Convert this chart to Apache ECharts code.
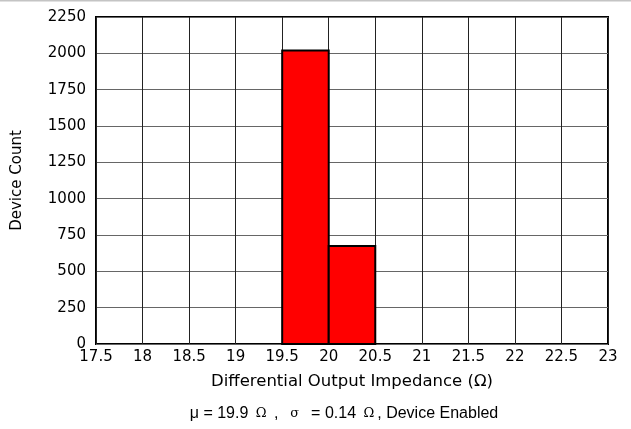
<!DOCTYPE html>
<html>
<head>
<meta charset="utf-8">
<script src="https://cdn.jsdelivr.net/npm/echarts@6/dist/echarts.min.js"></script>
<style>
  html, body { margin: 0; padding: 0; background: #fff; }
  #chart { width: 631px; height: 429px; }
</style>
</head>
<body>
<div id="chart"></div>
<script>
// histogram bins: [start, end, count]
const binStarts = [19.5, 20.0];
const binEnds = [20.0, 20.5];
const binCounts = [2020, 675];

const xMin = 17.5, xMax = 23, xStep = 0.5;
const yMin = 0, yMax = 2250, yStep = 250;

const font = 'DejaVu Sans, sans-serif';
const font2 = 'Liberation Sans, Arial, sans-serif';

const bins = binStarts.map((s, i) => [s, binEnds[i], binCounts[i]]);

const myChart = echarts.init(document.getElementById('chart'));

const options = {
  animation: false,
  backgroundColor: '#fff',
  grid: {
    left: 96, right: 23, top: 17, bottom: 85,
    show: true, borderColor: '#000', borderWidth: 2
  },
  title: {
    text: 'μ = 19.9 {s|Ω} ,  {s|σ}  = 0.14 {s|Ω}, Device Enabled',
    left: 339,
    top: 401,
    textAlign: 'center',
    textStyle: {
      fontFamily: font2, fontSize: 16, fontWeight: 'normal', color: '#000',
      rich: {
        s: { fontFamily: 'DejaVu Serif, serif', fontSize: 13, color: '#000', padding: [0, 3, 0, 3] }
      }
    }
  },
  xAxis: {
    type: 'value',
    min: xMin, max: xMax, interval: xStep,
    name: 'Differential Output Impedance (Ω)',
    nameLocation: 'middle',
    nameGap: 29,
    nameTextStyle: { fontFamily: font, fontSize: 16.5, color: '#000' },
    axisLine: { show: false },
    axisTick: { show: false },
    axisLabel: { fontFamily: font, fontSize: 15, color: '#000', margin: 6, formatter: v => String(v) },
    splitLine: { show: true, lineStyle: { color: '#222', width: 1 } }
  },
  yAxis: {
    type: 'value',
    min: yMin, max: yMax, interval: yStep,
    name: 'Device Count',
    nameLocation: 'middle',
    nameGap: 71,
    nameRotate: 90,
    nameTextStyle: { fontFamily: font, fontSize: 15, color: '#000' },
    axisLine: { show: false },
    axisTick: { show: false },
    axisLabel: { fontFamily: font, fontSize: 15, color: '#000', margin: 10, formatter: v => String(v) },
    splitLine: { show: true, lineStyle: { color: '#666', width: 1 } }
  },
  graphic: [{
    type: 'line', shape: { x1: 0, y1: 0.5, x2: 631, y2: 0.5 },
    style: { stroke: '#c4c4c4', lineWidth: 2 }
  }],
  series: [{
    type: 'custom',
    data: bins,
    encode: { x: [0, 1], y: 2 },
    renderItem: function (params, api) {
      const p0 = api.coord([api.value(0), 0]);
      const p1 = api.coord([api.value(1), api.value(2)]);
      return {
        type: 'rect',
        shape: { x: p0[0], y: p1[1], width: p1[0] - p0[0], height: p0[1] - p1[1] },
        style: { fill: '#ff0000', stroke: '#000', lineWidth: 2 }
      };
    }
  }]
};

myChart.setOption(options);
window.addEventListener('resize', () => { myChart.resize(); });
</script>
</body>
</html>
